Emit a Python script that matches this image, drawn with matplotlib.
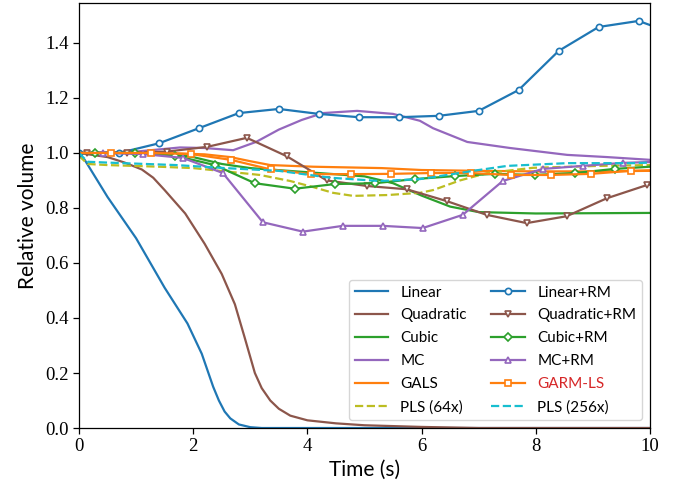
import matplotlib
matplotlib.use("Agg")
import matplotlib.pyplot as plt

# plain curves (time in s, relative volume)
t_linear = [0, 0.1, 0.5, 1.0, 1.5, 1.9, 2.15, 2.35, 2.45, 2.55, 2.65, 2.8, 3.0, 3.2, 10]
v_linear = [0.99, 0.975, 0.84, 0.69, 0.51, 0.38, 0.27, 0.15, 0.10, 0.06, 0.035, 0.013, 0.003, 0.0, 0.0]

t_quad = [0, 0.5, 0.8, 1.1, 1.3, 1.5, 1.86, 2.2, 2.5, 2.73, 2.9, 3.08, 3.2, 3.35, 3.5, 3.7, 4.0, 4.5, 5, 6, 7, 10]
v_quad = [1.0, 0.985, 0.965, 0.94, 0.91, 0.865, 0.78, 0.67, 0.56, 0.45, 0.33, 0.20, 0.145, 0.10, 0.07, 0.045, 0.028, 0.017, 0.01, 0.004, 0.0, 0.0]

t_cubic = [0, 1.5, 2.0, 2.5, 3.0, 4.0, 5.0, 5.5, 6.0, 6.5, 7.0, 8.0, 10]
v_cubic = [1.0, 1.0, 0.985, 0.96, 0.945, 0.93, 0.915, 0.89, 0.845, 0.805, 0.785, 0.78, 0.782]

t_mc = [0, 1.0, 1.77, 2.2, 2.7, 3.1, 3.5, 3.9, 4.27, 4.87, 5.5, 5.97, 6.2, 6.8, 7.55, 8.55, 9.25, 10]
v_mc = [1.0, 1.005, 1.02, 1.018, 1.01, 1.04, 1.085, 1.12, 1.145, 1.153, 1.142, 1.117, 1.09, 1.04, 1.018, 0.993, 0.985, 0.975]

t_gals = [0, 1.5, 2.2, 2.65, 3.0, 3.35, 4.1, 5.3, 6.0, 7, 8, 9, 10]
v_gals = [1.0, 1.0, 0.995, 0.985, 0.97, 0.956, 0.95, 0.945, 0.938, 0.935, 0.933, 0.933, 0.935]

t_pls64 = [0, 0.15, 0.5, 1.4, 2.0, 2.47, 3.17, 3.7, 4.1, 4.45, 4.8, 5.4, 5.97, 6.2, 6.67, 7.15, 7.95, 9.1, 10]
v_pls64 = [0.99, 0.96, 0.956, 0.95, 0.945, 0.935, 0.92, 0.898, 0.876, 0.855, 0.844, 0.847, 0.855, 0.865, 0.9, 0.927, 0.946, 0.953, 0.956]

t_pls256 = [0, 0.15, 0.5, 1.7, 2.56, 3.5, 4.4, 5.27, 5.97, 6.2, 6.9, 7.5, 8.55, 9.7, 10]
v_pls256 = [1.0, 0.968, 0.965, 0.956, 0.945, 0.935, 0.91, 0.898, 0.905, 0.912, 0.935, 0.953, 0.963, 0.963, 0.965]

# RM curves, sampled at the marker times
t_lin_rm = [0, 0.7, 1.4, 2.1, 2.8, 3.5, 4.2, 4.9, 5.6, 6.3, 7.0, 7.7, 8.4, 9.1, 9.8, 10]
v_lin_rm = [1.0, 1.0, 1.035, 1.09, 1.145, 1.16, 1.142, 1.13, 1.13, 1.135, 1.153, 1.229, 1.371, 1.458, 1.48, 1.465]

t_quad_rm = [0, 0.14, 0.84, 1.54, 2.24, 2.94, 3.64, 4.34, 5.04, 5.74, 6.44, 7.14, 7.84, 8.54, 9.24, 9.94, 10]
v_quad_rm = [1.0, 1.0, 1.0, 1.005, 1.022, 1.055, 0.988, 0.90, 0.88, 0.868, 0.825, 0.775, 0.745, 0.77, 0.835, 0.883, 0.885]

t_cubic_rm = [0, 0.28, 0.98, 1.68, 2.38, 3.08, 3.78, 4.48, 5.18, 5.88, 6.58, 7.28, 7.98, 8.68, 9.38, 10]
v_cubic_rm = [1.0, 1.0, 1.0, 0.99, 0.956, 0.89, 0.87, 0.887, 0.89, 0.905, 0.916, 0.924, 0.92, 0.927, 0.942, 0.95]

t_mc_rm = [0, 0.42, 1.12, 1.82, 2.52, 3.22, 3.92, 4.62, 5.32, 6.02, 6.72, 7.42, 8.12, 8.82, 9.52, 10]
v_mc_rm = [1.0, 1.0, 0.996, 0.982, 0.927, 0.748, 0.714, 0.735, 0.735, 0.727, 0.775, 0.898, 0.942, 0.953, 0.964, 0.967]

t_garm = [0, 0.56, 1.26, 1.96, 2.66, 3.36, 4.06, 4.76, 5.46, 6.16, 6.86, 7.56, 8.26, 8.96, 9.66, 10]
v_garm = [1.0, 1.0, 1.0, 0.996, 0.975, 0.94, 0.923, 0.923, 0.924, 0.927, 0.927, 0.92, 0.92, 0.924, 0.935, 0.937]

label_font = "Lato"
tick_font = "Liberation Serif"

fig = plt.figure(figsize=(6.88, 4.93), dpi=100)
ax = fig.add_axes([0.1148, 0.1318, 0.83, 0.862])

lw = 1.6
mk = dict(markersize=4.5, markerfacecolor="white", markeredgewidth=1.2)

h = {}
h["Linear"], = ax.plot(t_linear, v_linear, color="tab:blue", lw=lw)
h["Quadratic"], = ax.plot(t_quad, v_quad, color="tab:brown", lw=lw)
h["Cubic"], = ax.plot(t_cubic, v_cubic, color="tab:green", lw=lw)
h["MC"], = ax.plot(t_mc, v_mc, color="tab:purple", lw=lw)
h["GALS"], = ax.plot(t_gals, v_gals, color="tab:orange", lw=lw)
h["PLS (64x)"], = ax.plot(t_pls64, v_pls64, color="tab:olive", lw=lw, ls="--")

h["Linear+RM"], = ax.plot(t_lin_rm, v_lin_rm, color="tab:blue", lw=lw, marker="o",
                          markevery=list(range(0, len(t_lin_rm) - 1)), **mk)
h["Quadratic+RM"], = ax.plot(t_quad_rm, v_quad_rm, color="tab:brown", lw=lw, marker="v",
                             markevery=list(range(1, len(t_quad_rm) - 1)), **mk)
h["Cubic+RM"], = ax.plot(t_cubic_rm, v_cubic_rm, color="tab:green", lw=lw, marker="D",
                         markevery=list(range(1, len(t_cubic_rm) - 1)),
                         **{**mk, "markersize": 4})
h["MC+RM"], = ax.plot(t_mc_rm, v_mc_rm, color="tab:purple", lw=lw, marker="^",
                      markevery=list(range(1, len(t_mc_rm) - 1)), **mk)
h["GARM-LS"], = ax.plot(t_garm, v_garm, color="tab:orange", lw=lw, marker="s",
                        markevery=list(range(1, len(t_garm) - 1)), **mk)
h["PLS (256x)"], = ax.plot(t_pls256, v_pls256, color="tab:cyan", lw=lw, ls="--")

ax.set_xlim(0, 10)
ax.set_ylim(0, 1.545)
ax.set_xticks([0, 2, 4, 6, 8, 10])
ax.set_yticks([0.0, 0.2, 0.4, 0.6, 0.8, 1.0, 1.2, 1.4])
ax.set_yticklabels(["0.0", "0.2", "0.4", "0.6", "0.8", "1.0", "1.2", "1.4"])
for lab in ax.get_xticklabels() + ax.get_yticklabels():
    lab.set_fontfamily(tick_font)
    lab.set_fontsize(13.5)
ax.tick_params(length=4, width=0.9)
for s in ax.spines.values():
    s.set_linewidth(0.9)

ax.set_xlabel("Time (s)", fontfamily=label_font, fontsize=15, labelpad=3)
ax.set_ylabel("Relative volume", fontfamily=label_font, fontsize=15, labelpad=5)

order = ["Linear", "Quadratic", "Cubic", "MC", "GALS", "PLS (64x)",
         "Linear+RM", "Quadratic+RM", "Cubic+RM", "MC+RM", "GARM-LS", "PLS (256x)"]
leg = ax.legend([h[k] for k in order], order, loc="lower right", ncol=2,
                prop={"family": label_font, "size": 11}, handlelength=2.2,
                columnspacing=1.6, labelspacing=0.58)
for txt in leg.get_texts():
    if txt.get_text() == "GARM-LS":
        txt.set_color("#d62728")

fig.savefig("out.png", dpi=100)
